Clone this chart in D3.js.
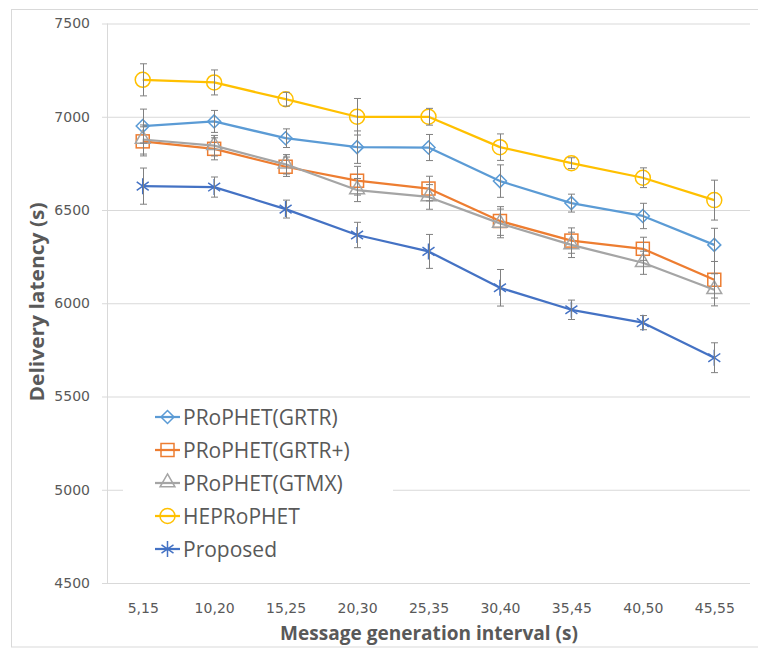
<!DOCTYPE html>
<html>
<head>
<meta charset="utf-8">
<script src="https://cdn.jsdelivr.net/npm/d3@7"></script>
<style>
  body { margin: 0; background: #fff; }
  text { font-family: "DejaVu Sans", sans-serif; }
</style>
</head>
<body>
<svg id="chart" width="758" height="648"></svg>
<script>
// values
var categories = ["5,15", "10,20", "15,25", "20,30", "25,35", "30,40", "35,45", "40,50", "45,55"];
var yTicks = [4500, 5000, 5500, 6000, 6500, 7000, 7500];
var seriesNames = ["PRoPHET(GRTR)", "PRoPHET(GRTR+)", "PRoPHET(GTMX)", "HEPRoPHET", "Proposed"];

var grtr      = [6950, 6975, 6885, 6837, 6835, 6655, 6537, 6468, 6313];
var grtrPlus  = [6868, 6828, 6732, 6657, 6615, 6441, 6336, 6292, 6126];
var gtmx      = [6878, 6845, 6745, 6607, 6570, 6428, 6313, 6217, 6072];
var heprophet = [7198, 7184, 7094, 7000, 7000, 6837, 6751, 6673, 6553];
var proposed  = [6628, 6623, 6505, 6366, 6278, 6083, 5965, 5896, 5708];

// +/- error bar half sizes
var grtrErr      = [91, 59, 50, 87, 70, 87, 48, 68, 89];
var grtrPlusErr  = [78, 59, 52, 77, 66, 77, 68, 62, 98];
var gtmxErr      = [78, 55, 52, 62, 66, 77, 68, 62, 86];
var heprophetErr = [86, 67, 37, 98, 45, 71, 29, 53, 107];
var proposedErr  = [97, 54, 48, 68, 91, 98, 52, 38, 80];

var svg = d3.select("#chart");

var plotLeft = 107, plotRight = 750, plotTop = 23.5, plotBottom = 583;
var gridColor = "#d9d9d9";
var textColor = "#595959";
var errColor = "#808080";

var series = [
  { name: seriesNames[0], values: grtr, err: grtrErr, color: "#5b9bd5", marker: "diamond" },
  { name: seriesNames[1], values: grtrPlus, err: grtrPlusErr, color: "#ed7d31", marker: "square" },
  { name: seriesNames[2], values: gtmx, err: gtmxErr, color: "#a5a5a5", marker: "triangle" },
  { name: seriesNames[3], values: heprophet, err: heprophetErr, color: "#ffc000", marker: "circle" },
  { name: seriesNames[4], values: proposed, err: proposedErr, color: "#4472c4", marker: "star" }
];

var xScale = d3.scalePoint()
  .domain(categories)
  .range([plotLeft, plotRight])
  .padding(0.5);

var yScale = d3.scaleLinear()
  .domain([4500, 7500])
  .range([plotBottom, plotTop]);

// outer chart border (cropped on the right)
svg.append("rect")
  .attr("x", 11.5).attr("y", 9.5)
  .attr("width", 800).attr("height", 637.5)
  .attr("fill", "none")
  .attr("stroke", gridColor);

// gridlines + y tick labels
var leftAxis = d3.axisLeft(yScale)
  .tickValues(yTicks)
  .tickSize(-(plotRight - 102))
  .tickPadding(12)
  .tickFormat(d3.format("d"));

var yg = svg.append("g")
  .attr("transform", "translate(102,0)")
  .call(leftAxis);
yg.select(".domain").remove();
yg.selectAll(".tick line").attr("stroke", gridColor).attr("stroke-width", 1);
yg.selectAll(".tick text")
  .attr("fill", textColor)
  .style("font-size", "14px");

// vertical axis line
svg.append("line")
  .attr("x1", plotLeft + 0.5).attr("x2", plotLeft + 0.5)
  .attr("y1", plotTop).attr("y2", plotBottom)
  .attr("stroke", gridColor);

// x axis
var bottomAxis = d3.axisBottom(xScale).tickSize(0).tickPadding(20);
var xg = svg.append("g")
  .attr("transform", "translate(0," + plotBottom + ")")
  .call(bottomAxis);
xg.select(".domain").remove();
xg.selectAll(".tick text")
  .attr("fill", textColor)
  .style("font-size", "14px");

svg.append("line")
  .attr("x1", 102).attr("x2", plotRight)
  .attr("y1", plotBottom + 0.5).attr("y2", plotBottom + 0.5)
  .attr("stroke", gridColor);

// marker shapes
function drawMarker(g, type, color, cx, cy) {
  var s;
  if (type === "diamond") {
    s = 6.5;
    g.append("path")
      .attr("d", "M" + cx + "," + (cy - s) + "L" + (cx + s) + "," + cy + "L" + cx + "," + (cy + s) + "L" + (cx - s) + "," + cy + "Z")
      .attr("fill", "none").attr("stroke", color).attr("stroke-width", 1.5);
  } else if (type === "square") {
    s = 6.5;
    g.append("rect")
      .attr("x", cx - s).attr("y", cy - s).attr("width", 2 * s).attr("height", 2 * s)
      .attr("fill", "none").attr("stroke", color).attr("stroke-width", 1.5);
  } else if (type === "triangle") {
    g.append("path")
      .attr("d", d3.symbol().type(d3.symbolTriangle).size(95)())
      .attr("transform", "translate(" + cx + "," + (cy - 0.5) + ")")
      .attr("fill", "none").attr("stroke", color).attr("stroke-width", 1.5);
  } else if (type === "circle") {
    g.append("circle")
      .attr("cx", cx).attr("cy", cy).attr("r", 7.5)
      .attr("fill", "none").attr("stroke", color).attr("stroke-width", 1.5);
  } else if (type === "star") {
    s = 8;
    var d = s * 0.75;
    g.append("path")
      .attr("d", "M" + cx + "," + (cy - s) + "L" + cx + "," + (cy + s) +
        "M" + (cx - d) + "," + (cy - d * 0.7) + "L" + (cx + d) + "," + (cy + d * 0.7) +
        "M" + (cx - d) + "," + (cy + d * 0.7) + "L" + (cx + d) + "," + (cy - d * 0.7))
      .attr("fill", "none").attr("stroke", color).attr("stroke-width", 1.5);
  }
}

// series lines, markers, error bars
var line = d3.line()
  .x(function (d, i) { return xScale(categories[i]); })
  .y(function (d) { return yScale(d); });

series.forEach(function (s) {
  var g = svg.append("g");
  g.append("path")
    .datum(s.values)
    .attr("d", line)
    .attr("fill", "none")
    .attr("stroke", s.color)
    .attr("stroke-width", 2.25)
    .attr("stroke-linejoin", "round");

  s.values.forEach(function (v, i) {
    drawMarker(g, s.marker, s.color, xScale(categories[i]), yScale(v));
  });
});

// error bars on top
series.forEach(function (s) {
  var g = svg.append("g");
  s.values.forEach(function (v, i) {
    var cx = Math.round(xScale(categories[i])) + 0.5;
    var top = yScale(v + s.err[i]);
    var bot = yScale(v - s.err[i]);
    g.append("line")
      .attr("x1", cx).attr("x2", cx).attr("y1", top).attr("y2", bot)
      .attr("stroke", errColor).attr("stroke-width", 1);
    [top, bot].forEach(function (yy) {
      g.append("line")
        .attr("x1", cx - 3.5).attr("x2", cx + 3.5).attr("y1", yy).attr("y2", yy)
        .attr("stroke", errColor).attr("stroke-width", 1);
    });
  });
});

// legend
var legend = svg.append("g");
legend.append("rect")
  .attr("x", 123).attr("y", 400)
  .attr("width", 270).attr("height", 170)
  .attr("fill", "#fff");

series.forEach(function (s, i) {
  var ly = 417 + i * 33;
  legend.append("line")
    .attr("x1", 155).attr("x2", 180).attr("y1", ly).attr("y2", ly)
    .attr("stroke", s.color).attr("stroke-width", 2.25);
  drawMarker(legend, s.marker, s.color, 167.5, ly);
  legend.append("text")
    .attr("x", 183).attr("y", ly)
    .attr("dy", "0.36em")
    .attr("fill", textColor)
    .style("font-family", "'Open Sans', sans-serif")
    .style("font-size", "21px")
    .text(s.name);
});

// axis titles
svg.append("text")
  .attr("transform", "translate(44,302)rotate(-90)")
  .attr("text-anchor", "middle")
  .attr("fill", textColor)
  .attr("textLength", 199)
  .attr("lengthAdjust", "spacingAndGlyphs")
  .style("font-family", "'Open Sans', sans-serif")
  .style("font-weight", "bold")
  .style("font-size", "19px")
  .text("Delivery latency (s)");

svg.append("text")
  .attr("x", 429).attr("y", 640)
  .attr("text-anchor", "middle")
  .attr("fill", textColor)
  .attr("textLength", 298)
  .attr("lengthAdjust", "spacingAndGlyphs")
  .style("font-family", "'Open Sans', sans-serif")
  .style("font-weight", "bold")
  .style("font-size", "19px")
  .text("Message generation interval (s)");
</script>
</body>
</html>
